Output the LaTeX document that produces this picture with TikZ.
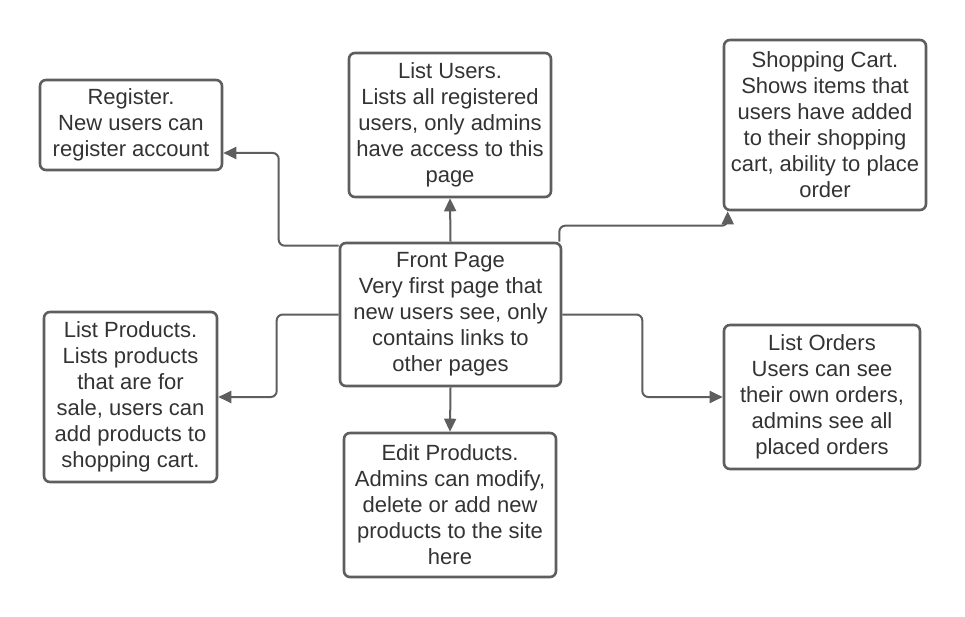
\documentclass[tikz,border=0pt]{standalone}
\usepackage{fontspec}
\setmainfont{Liberation Sans}
\usepackage{xcolor}
\usepackage{tikz}
\usetikzlibrary{arrows.meta}

\definecolor{linegray}{HTML}{5E5E5E}
\definecolor{textgray}{HTML}{333333}

\begin{document}
\begin{tikzpicture}[x=1pt,y=-1pt,
    page/.style={draw=linegray,line width=2.6pt,rounded corners=6pt,fill=white,
      text=textgray,align=center,inner sep=0pt,
      font=\fontsize{22}{26}\selectfont},
    link/.style={draw=linegray,line width=2pt,rounded corners=6pt,
      -{Triangle[length=13pt,width=12pt]}}]
    \useasboundingbox (0,0) rectangle (965,617);
    \node[page,minimum width=182pt,minimum height=90pt] (register) at (131,125)
      {Register.\\New users can\\register account};
    \node[page,minimum width=202pt,minimum height=144pt] (listusers) at (450,125)
      {List Users.\\Lists all registered\\users, only admins\\have access to this\\page};
    \node[page,minimum width=202pt,minimum height=170pt] (cart) at (825,125)
      {Shopping Cart.\\Shows items that\\users have added\\to their shopping\\cart, ability to place\\order};
    \node[page,minimum width=221pt,minimum height=143pt] (front) at (450.5,314.5)
      {Front Page\\Very first page that\\new users see, only\\contains links to\\other pages};
    \node[page,minimum width=173pt,minimum height=170pt] (listprod) at (130.5,397)
      {List Products.\\Lists products\\that are for\\sale, users can\\add products to\\shopping cart.};
    \node[page,minimum width=212pt,minimum height=144pt] (editprod) at (450,505)
      {Edit Products.\\Admins can modify,\\delete or add new\\products to the site\\here};
    \node[page,minimum width=196pt,minimum height=144pt] (listorders) at (822,397)
      {List Orders\\Users can see\\their own orders,\\admins see all\\placed orders};

    \draw[link] ([yshift=-4pt]front.north west) -- ++(-60,0) |- ([yshift=-28pt]register.east);
    \draw[link] (front.north) -- (listusers.south);
    \draw[link] ([xshift=-3pt]front.north east) -- ++(0,-16) -| ([xshift=5pt]cart.south west);
    \draw[link] (front.west) -- ++(-62,0) |- (listprod.east);
    \draw[link] (front.east) -- ++(80,0) |- (listorders.west);
    \draw[link] (front.south) -- (editprod.north);
  \end{tikzpicture}
\end{document}
